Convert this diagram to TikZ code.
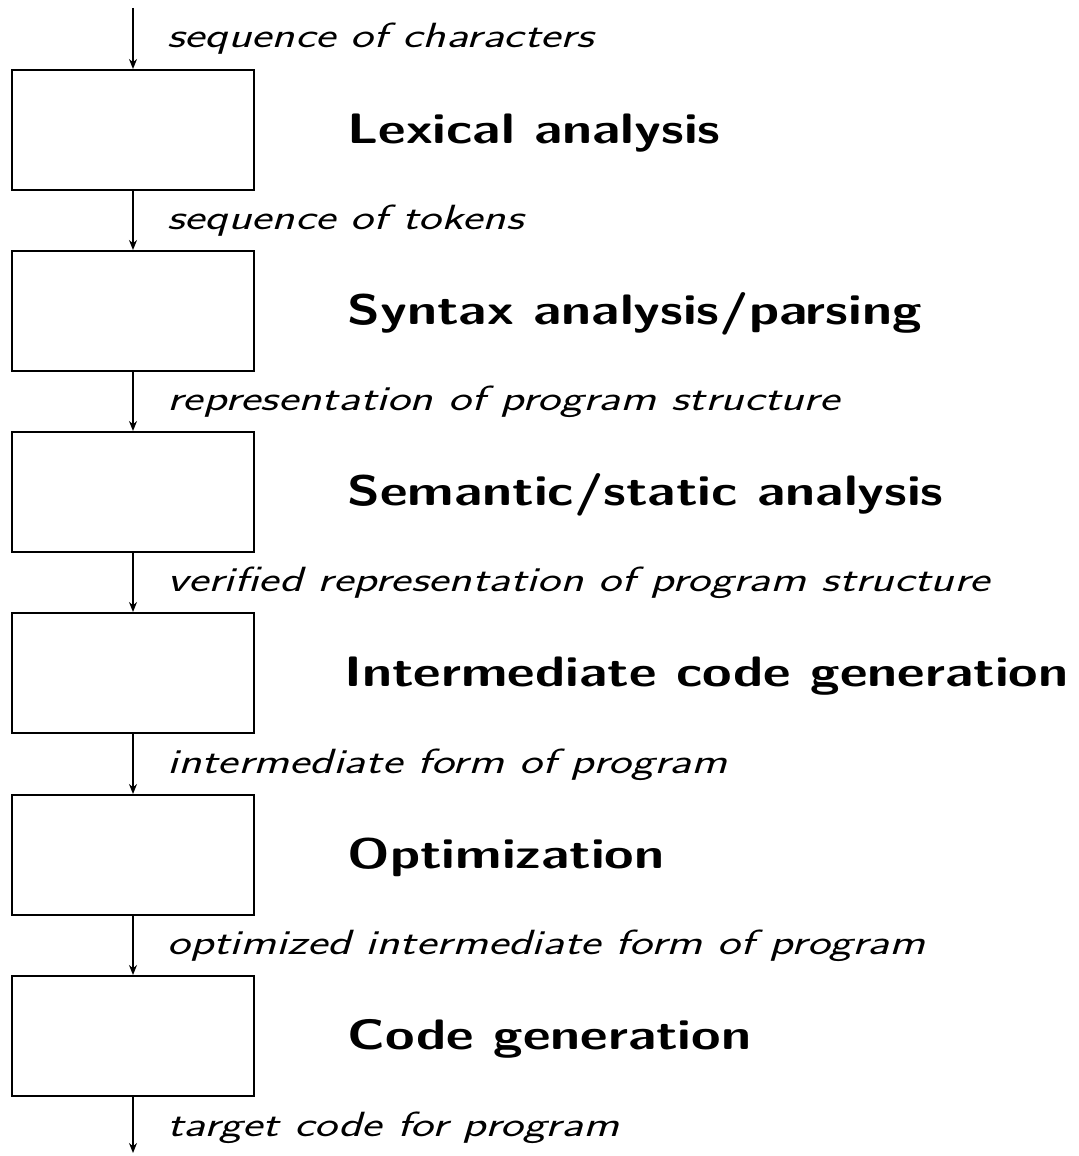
\documentclass[tikz,border=0pt]{standalone}
\usepackage{graphicx}
\usetikzlibrary{arrows.meta}
\newcommand{\widetext}[2]{\scalebox{#1}[1]{#2}}
\begin{document}
\begin{tikzpicture}[x=0.5pt,y=-0.5pt,
  stage/.style={draw,line width=1pt,minimum width=121pt,minimum height=60pt,inner sep=0pt},
  flow/.style={line width=1pt,-{Stealth[length=5pt,width=4pt]}},
  data/.style={anchor=base west,font=\sffamily\itshape\fontsize{17.5}{20}\selectfont,inner sep=0pt},
  phase/.style={anchor=base west,font=\sffamily\bfseries\fontsize{21.3}{25}\selectfont,inner sep=0pt}]
  \useasboundingbox (0,0) rectangle (1078,1156);
  % pipeline stages
  \node[stage] (s1) at (133,130) {};
  \node[stage] (s2) at (133,311) {};
  \node[stage] (s3) at (133,492) {};
  \node[stage] (s4) at (133,673) {};
  \node[stage] (s5) at (133,855) {};
  \node[stage] (s6) at (133,1036) {};
  % input and output ends
  \coordinate (in) at (133,8);
  \coordinate (out) at (133,1153);
  % connectors between stages
  \draw[flow] (in) -- (s1.north);
  \draw[flow] (s1.south) -- (s2.north);
  \draw[flow] (s2.south) -- (s3.north);
  \draw[flow] (s3.south) -- (s4.north);
  \draw[flow] (s4.south) -- (s5.north);
  \draw[flow] (s5.south) -- (s6.north);
  \draw[flow] (s6.south) -- (out);
  % data passed between stages
  \node[data] (d0) at (167,48) {\widetext{1.38}{sequence of characters}};
  \node[data] (d1) at (167,229) {\widetext{1.38}{sequence of tokens}};
  \node[data] (d2) at (167,410) {\widetext{1.38}{representation of program structure}};
  \node[data] (d3) at (167,591) {\widetext{1.38}{verified representation of program structure}};
  \node[data] (d4) at (167,773) {\widetext{1.38}{intermediate form of program}};
  \node[data] (d5) at (167,954) {\widetext{1.38}{optimized intermediate form of program}};
  \node[data] (d6) at (167,1136) {\widetext{1.38}{target code for program}};
  % phase names
  \node[phase] (p1) at (347,143) {\widetext{1.26}{Lexical analysis}};
  \node[phase] (p2) at (347,324) {\widetext{1.26}{Syntax analysis/parsing}};
  \node[phase] (p3) at (347,505) {\widetext{1.26}{Semantic/static analysis}};
  \node[phase] (p4) at (344,686) {\widetext{1.26}{Intermediate code generation}};
  \node[phase] (p5) at (347,868) {\widetext{1.26}{Optimization}};
  \node[phase] (p6) at (347,1049) {\widetext{1.26}{Code generation}};
\end{tikzpicture}
\end{document}
